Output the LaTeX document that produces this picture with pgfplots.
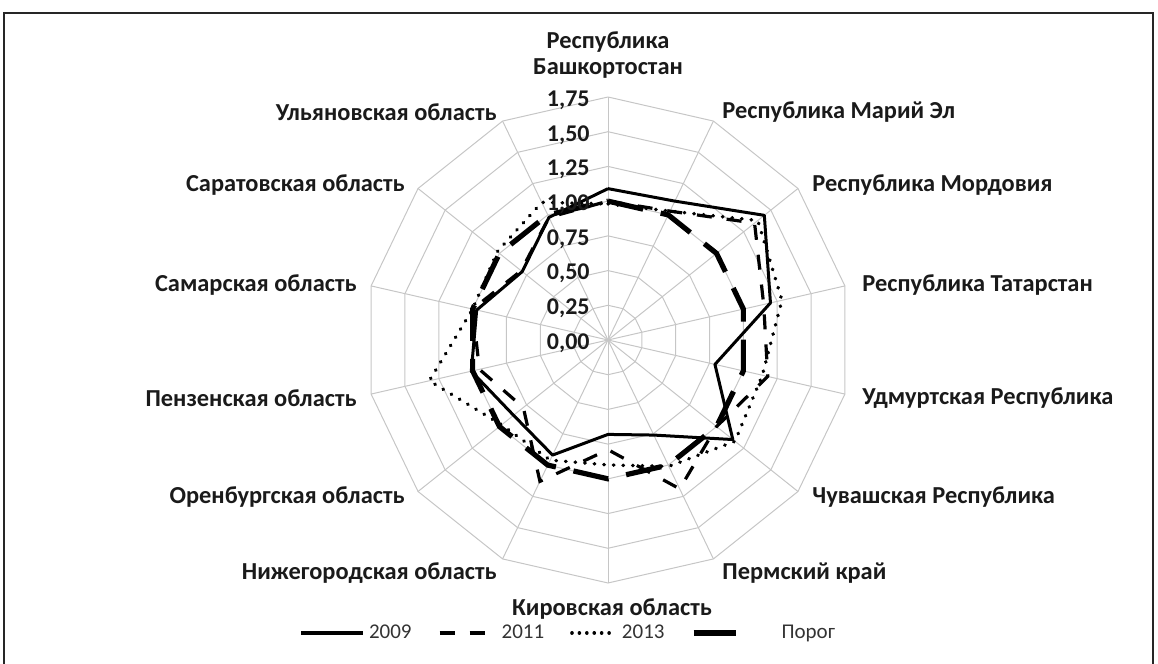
\documentclass[border=0pt]{standalone}
\usepackage{pgfplots}
\pgfplotsset{compat=1.18}
\usepackage{pgfplotstable}
\usepackage{fontspec}
\setmainfont{Carlito}
\definecolor{gridc}{HTML}{C6C6C6}
\definecolor{txt}{HTML}{1A1A1A}
\definecolor{legtxt}{HTML}{333333}

\pgfplotstableread{
a        v09  v11  v13   por
90       1.09 1.00 0.98  1
64.2857  1.11 1.03 1.03  1
38.5714  1.44 1.35 1.38  1
12.8571  1.20 1.15 1.285 1
-12.8571 0.79 1.18 1.14  1
-38.5714 1.15 1.00 1.17  1
-64.2857 0.76 1.19 1.01  1
-90      0.68 0.79 0.90  1
-115.7143 0.92 1.13 0.96 1
-141.4286 0.87 0.78 0.98 1
-167.1429 1.01 0.95 1.32 1
-192.8571 0.97 1.00 1.00 1
-218.5714 0.79 0.80 1.02 1
-244.2857 0.98 0.98 1.10 1
-270     1.09 1.00 0.98  1
}\data

\begin{document}
\begin{tikzpicture}
\path[use as bounding box] (0pt,0pt) rectangle (579pt,332pt);
% frame
\draw[black!85, line width=0.9pt] (2pt,-2pt) -- (2pt,325.5pt) -- (576.5pt,325.5pt) -- (576.5pt,-2pt);
% spokes
\foreach \ang in {90,64.2857,38.5714,12.8571,-12.8571,-38.5714,-64.2857,-90,-115.7143,-141.4286,-167.1429,-192.8571,-218.5714,-244.2857}{
  \draw[gridc, line width=0.5pt] (304pt,162pt) -- ++(\ang:121.5pt);
}
\begin{axis}[
  at={(0pt,0pt)}, anchor=south west,
  scale only axis, width=579pt, height=332pt,
  xmin=-4.37860, xmax=3.96091, ymin=-2.33333, ymax=2.44856,
  hide axis, clip=false,
  legend style={at={(0.4914,0.0467)}, anchor=center, draw=none, fill=none,
    font=\fontsize{10.5}{12}\selectfont, text=legtxt,
    /tikz/every even column/.append style={column sep=11pt}},
  legend columns=4,
]
\pgfplotsinvokeforeach{0.25,0.5,0.75,1,1.25,1.5,1.75}{
  \addplot[gridc, line width=0.5pt, forget plot] table[x expr={#1*cos(\thisrow{a})}, y expr={#1*sin(\thisrow{a})}] {\data};
}
\addplot[black, line width=1.5pt, line join=round,
  legend image code/.code={\draw[black, solid, line width=2pt] (0pt,0pt) -- (31pt,0pt);}]
  table[x expr={\thisrow{v09}*cos(\thisrow{a})}, y expr={\thisrow{v09}*sin(\thisrow{a})}] {\data};
\addlegendentry{2009}
\addplot[black, line width=1.6pt, dash pattern=on 7.5pt off 7.5pt,
  legend image code/.code={\draw[black, solid, line width=2pt] (0pt,0pt) -- (7.5pt,0pt) (15pt,0pt) -- (22.5pt,0pt); \path[draw=none] (0pt,0pt) -- (29pt,0pt);}]
  table[x expr={\thisrow{v11}*cos(\thisrow{a})}, y expr={\thisrow{v11}*sin(\thisrow{a})}] {\data};
\addlegendentry{2011}
\addplot[black, line width=1.8pt, line cap=round, dash pattern=on 0.2pt off 4.6pt,
  legend image code/.code={\draw[black, line width=1.8pt, line cap=round, dash pattern=on 0.01pt off 3.7pt] (0.9pt,0pt) -- (23pt,0pt); \path[draw=none] (0pt,0pt) -- (23pt,0pt);}]
  table[x expr={\thisrow{v13}*cos(\thisrow{a})}, y expr={\thisrow{v13}*sin(\thisrow{a})}] {\data};
\addlegendentry{2013}
\addplot[black, line width=2.6pt, dash pattern=on 18pt off 9pt,
  legend image code/.code={\draw[black, solid, line width=3pt] (0pt,0pt) -- (21pt,0pt); \path[draw=none] (0pt,0pt) -- (42pt,0pt);}]
  table[x expr={\thisrow{por}*cos(\thisrow{a})}, y expr={\thisrow{por}*sin(\thisrow{a})}] {\data};
\addlegendentry{Порог}
\end{axis}
% tick labels
\begin{scope}[every node/.style={font=\bfseries\fontsize{12}{13}\selectfont, text=txt, inner sep=0pt, anchor=east}]
\node at (295pt,160.5pt) {0,00};
\node at (295pt,177.9pt) {0,25};
\node at (295pt,195.2pt) {0,50};
\node at (295pt,212.6pt) {0,75};
\node at (295pt,229.9pt) {1,00};
\node at (295pt,247.3pt) {1,25};
\node at (295pt,264.6pt) {1,50};
\node at (295pt,282.0pt) {1,75};
\end{scope}
\begin{scope}[every node/.style={font=\bfseries\fontsize{12.2}{13}\selectfont, text=txt, inner sep=0pt}]
\node[align=center] at (304pt,304.5pt) {Республика\\Башкортостан};
\node[anchor=west] at (361pt,276pt) {Республика Марий Эл};
\node[anchor=west] at (406pt,239.5pt) {Республика Мордовия};
\node[anchor=west] at (431pt,189.5pt) {Республика Татарстан};
\node[anchor=west] at (431pt,133pt) {Удмуртская Республика};
\node[anchor=west] at (406pt,83.5pt) {Чувашская Республика};
\node[anchor=west] at (361pt,45.5pt) {Пермский край};
\node at (306pt,27.5pt) {Кировская область};
\node[anchor=east] at (248.5pt,45.5pt) {Нижегородская область};
\node[anchor=east] at (202.5pt,83.5pt) {Оренбургская область};
\node[anchor=east] at (178.5pt,133pt) {Пензенская область};
\node[anchor=east] at (178.5pt,189.5pt) {Самарская область};
\node[anchor=east] at (202.5pt,239.5pt) {Саратовская область};
\node[anchor=east] at (248.5pt,276pt) {Ульяновская область};
\end{scope}
\end{tikzpicture}
\end{document}
